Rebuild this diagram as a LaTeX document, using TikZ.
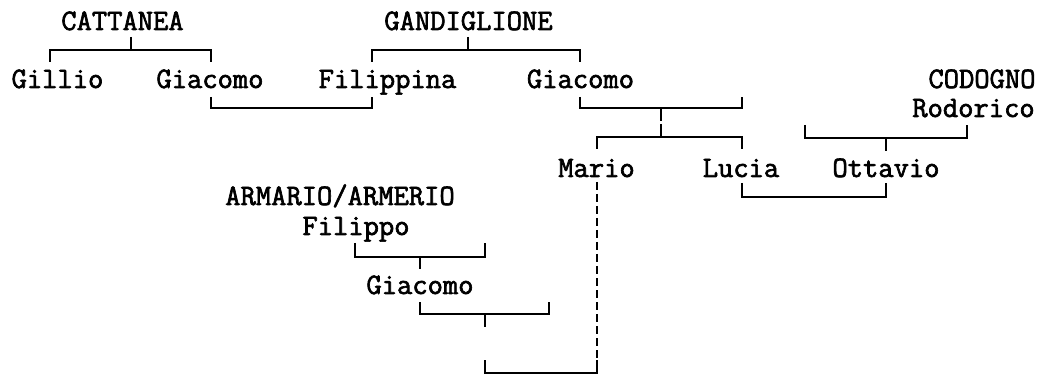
\documentclass[tikz,border=0pt]{standalone}
\usepackage{fontspec}
\newfontfamily\treefont[AutoFakeBold=2.2]{Latin Modern Mono}
\begin{document}
\begin{tikzpicture}[x=1pt,y=-1pt,
  lbl/.style={anchor=base,inner sep=0pt,font=\treefont\fontsize{29.7}{30}\selectfont\bfseries},
  ln/.style={line width=1.8pt,line cap=butt,line join=miter},
  dln/.style={line width=1.4pt,dash pattern=on 8pt off 4pt},
]
\useasboundingbox (0,0) rectangle (1039,374);
% texts
\node[lbl] (cattanea) at (122.5,30) {CATTANEA};
\node[lbl] (gandiglione) at (468.5,30) {GANDIGLIONE};
\node[lbl] (gillio) at (57.5,88) {Gillio};
\node[lbl] (giacomoA) at (210,88) {Giacomo};
\node[lbl] (filippina) at (387.5,88) {Filippina};
\node[lbl] (giacomoB) at (580.5,88) {Giacomo};
\node[lbl] (codogno) at (982,88) {CODOGNO};
\node[lbl] (rodorico) at (973.5,117) {Rodorico};
\node[lbl] (mario) at (596.5,177) {Mario};
\node[lbl] (lucia) at (741,177) {Lucia};
\node[lbl] (ottavio) at (886,177) {Ottavio};
\node[lbl] (armario) at (340,205) {ARMARIO/ARMERIO};
\node[lbl] (filippo) at (356,235) {Filippo};
\node[lbl] (giacomoC) at (420,294) {Giacomo};
% brackets
\draw[ln] (50,62) -- (50,50) -- (211,50) -- (211,62);
\draw[ln] (131,37) -- (131,50);
\draw[ln] (211,97) -- (211,108) -- (372,108) -- (372,97);
\draw[ln] (372,62) -- (372,50) -- (580,50) -- (580,62);
\draw[ln] (468,37) -- (468,50);
\draw[ln] (580,97) -- (580,108) -- (742,108) -- (742,97);
\draw[ln] (661,108) -- (661,121.5);
\draw[ln] (661,124) -- (661,137);
\draw[ln] (597,149) -- (597,137) -- (742,137) -- (742,149);
\draw[ln] (805,125) -- (805,138) -- (967,138) -- (967,125);
\draw[ln] (886,138) -- (886,151);
\draw[ln] (742,183) -- (742,197) -- (886,197) -- (886,183);
\draw[ln] (355,243) -- (355,257) -- (485,257) -- (485,243);
\draw[ln] (420,257) -- (420,269);
\draw[ln] (420,302) -- (420,314) -- (549,314) -- (549,302);
\draw[ln] (485,314) -- (485,327);
\draw[ln] (485,360) -- (485,373) -- (597,373) -- (597,360);
\draw[dln] (597,182) -- (597,360);
\end{tikzpicture}
\end{document}
